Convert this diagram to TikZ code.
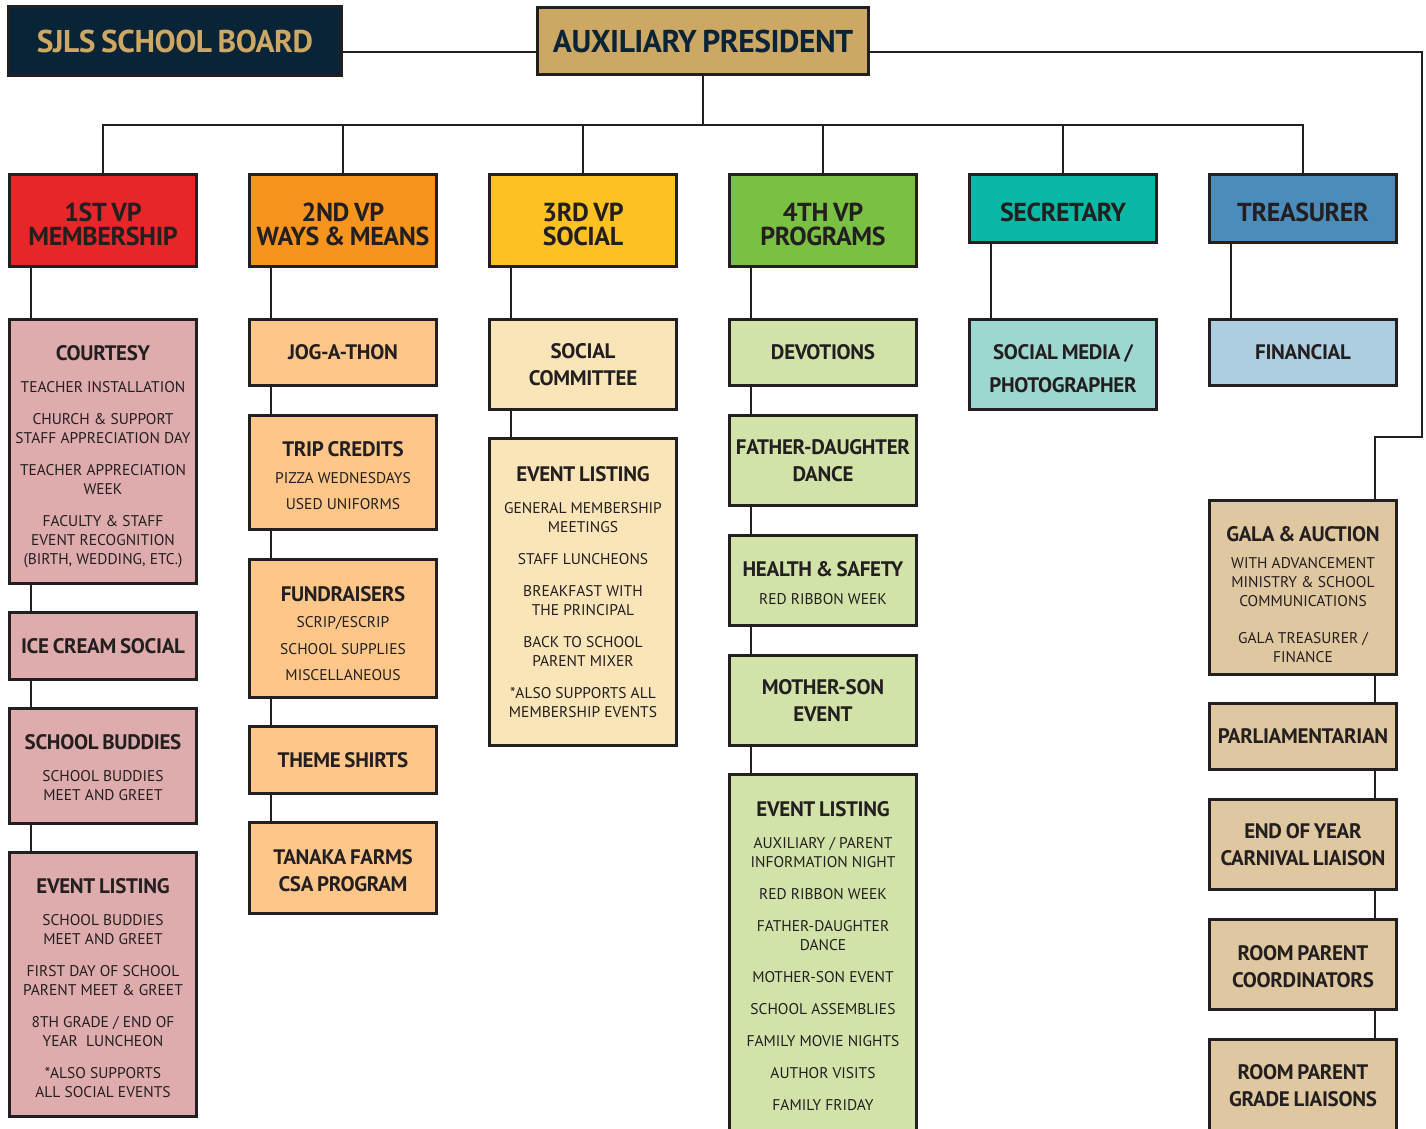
\documentclass[tikz,border=0pt]{standalone}
\usepackage{fontspec}
\setmainfont{PT Sans}[BoldFeatures={LetterSpace=-1.5,WordSpace=0.75}]
\usetikzlibrary{positioning}

\definecolor{navy}{HTML}{0A2437}
\definecolor{gold}{HTML}{CDA864}
\definecolor{ink}{HTML}{231F20}
\definecolor{vpred}{HTML}{E8262A}
\definecolor{vporange}{HTML}{F7941E}
\definecolor{vpyellow}{HTML}{FDC121}
\definecolor{vpgreen}{HTML}{7AC143}
\definecolor{secteal}{HTML}{0AB9A5}
\definecolor{treasblue}{HTML}{4C8CBA}
\definecolor{pinklt}{HTML}{DFACAE}
\definecolor{orangelt}{HTML}{FEC689}
\definecolor{yellowlt}{HTML}{FAE5B8}
\definecolor{greenlt}{HTML}{D1E3A8}
\definecolor{teallt}{HTML}{9DD8D0}
\definecolor{bluelt}{HTML}{ADCDE0}
\definecolor{tanlt}{HTML}{DFC79F}

% heading line of a list box; optional strut pushes the block down
\newcommand{\hd}[2][0pt]{{\fontsize{21}{23}\selectfont\bfseries\rule{0pt}{#1}#2}}
\newcommand{\lift}[1]{\rule{0pt}{#1}}

\begin{document}
\begin{tikzpicture}[x=1pt,y=-1pt,line width=2.7pt,draw=ink,
		box/.style={draw=ink,line width=2.8pt,minimum width=187pt,inner sep=0pt,align=center,text=ink},
		topbox/.style={box,font=\fontsize{31.5}{33}\selectfont\bfseries},
		vpbox/.style={box,minimum height=92pt,font=\fontsize{26}{24}\selectfont\bfseries},
		hdbox/.style={box,font=\fontsize{21}{27}\selectfont\bfseries},
		listbox/.style={box,font=\fontsize{15.5}{19}\selectfont}]
		
		\useasboundingbox (0,0) rectangle (1426,1128);
		
		% top row
		\node[topbox,fill=navy,text=gold,minimum width=333pt,minimum height=69pt] (board) at (175,41) {SJLS SCHOOL BOARD};
		\node[topbox,fill=gold,text=navy,minimum width=331pt,minimum height=67pt] (pres) at (703,41) {AUXILIARY PRESIDENT};
		
		% officers
		\node[vpbox,fill=vpred] (vp1) at (103,220.5) {\lift{26pt}1ST VP\\MEMBERSHIP};
		\node[vpbox,fill=vporange] (vp2) at (343,220.5) {\lift{26pt}2ND VP\\WAYS \& MEANS};
		\node[vpbox,fill=vpyellow] (vp3) at (583,220.5) {\lift{26pt}3RD VP\\SOCIAL};
		\node[vpbox,fill=vpgreen] (vp4) at (823,220.5) {\lift{26pt}4TH VP\\PROGRAMS};
		\node[vpbox,fill=secteal,minimum height=68pt] (sec) at (1063,208.5) {\lift{26pt}SECRETARY};
		\node[vpbox,fill=treasblue,minimum height=68pt] (treas) at (1303,208.5) {\lift{26pt}TREASURER};
		
		% membership
		\node[listbox,fill=pinklt,minimum height=264pt] (courtesy) at (103,451.5) {\hd[25pt]{COURTESY}\\[13pt]
			TEACHER INSTALLATION\\[13pt]
			CHURCH \& SUPPORT\\STAFF APPRECIATION DAY\\[13pt]
			TEACHER APPRECIATION\\WEEK\\[13pt]
			FACULTY \& STAFF\\EVENT RECOGNITION\\(BIRTH, WEDDING, ETC.)};
		\node[hdbox,fill=pinklt,minimum height=67pt] (icecream) at (103,646) {ICE CREAM SOCIAL};
		\node[listbox,fill=pinklt,minimum height=115pt] (buddies) at (103,766) {\hd[19pt]{SCHOOL BUDDIES}\\[13pt]
			SCHOOL BUDDIES\\MEET AND GREET};
		\node[listbox,fill=pinklt,minimum height=264pt] (events1) at (103,984.5) {\hd[23pt]{EVENT LISTING}\\[13pt]
			SCHOOL BUDDIES\\MEET AND GREET\\[13pt]
			FIRST DAY OF SCHOOL\\PARENT MEET \& GREET\\[13pt]
			8TH GRADE / END OF\\YEAR\ \ LUNCHEON\\[13pt]
			*ALSO SUPPORTS\\ALL SOCIAL EVENTS};
		
		% ways and means
		\node[hdbox,fill=orangelt,minimum height=66pt] (jog) at (343,352.5) {JOG-A-THON};
		\node[listbox,fill=orangelt,minimum height=114pt] (trip) at (343,472.5) {\hd[21pt]{TRIP CREDITS}\\[8pt]
			PIZZA WEDNESDAYS\\[7pt]
			USED UNIFORMS};
		\node[listbox,fill=orangelt,minimum height=138pt] (funds) at (343,628.5) {\hd[25pt]{FUNDRAISERS}\\[7pt]
			SCRIP/ESCRIP\\[8pt]
			SCHOOL SUPPLIES\\[7pt]
			MISCELLANEOUS};
		\node[hdbox,fill=orangelt,minimum height=67pt] (shirts) at (343,760) {THEME SHIRTS};
		\node[hdbox,fill=orangelt,minimum height=91pt] (tanaka) at (343,868) {\lift{21pt}TANAKA FARMS\\CSA PROGRAM};
		
		% social
		\node[hdbox,fill=yellowlt,minimum height=90pt] (committee) at (583,364.5) {SOCIAL\\COMMITTEE};
		\node[listbox,fill=yellowlt,minimum height=307pt] (events3) at (583,592) {\hd{EVENT LISTING}\\[13pt]
			GENERAL MEMBERSHIP\\MEETINGS\\[13pt]
			STAFF LUNCHEONS\\[13pt]
			BREAKFAST WITH\\THE PRINCIPAL\\[13pt]
			BACK TO SCHOOL\\PARENT MIXER\\[13pt]
			*ALSO SUPPORTS ALL\\MEMBERSHIP EVENTS};
		
		% programs
		\node[hdbox,fill=greenlt,minimum height=66pt] (devotions) at (823,352.5) {DEVOTIONS};
		\node[hdbox,fill=greenlt,minimum height=90pt] (dance) at (823,460.5) {FATHER-DAUGHTER\\DANCE};
		\node[listbox,fill=greenlt,minimum height=90pt] (health) at (823,580.5) {\hd[21pt]{HEALTH \& SAFETY}\\[9pt]
			RED RIBBON WEEK};
		\node[hdbox,fill=greenlt,minimum height=90pt] (motherson) at (823,700.5) {MOTHER-SON\\EVENT};
		\node[listbox,fill=greenlt,minimum height=364pt] (events4) at (823,956.5) {\hd{EVENT LISTING}\\[13pt]
			AUXILIARY / PARENT\\INFORMATION NIGHT\\[13pt]
			RED RIBBON WEEK\\[13pt]
			FATHER-DAUGHTER\\DANCE\\[13pt]
			MOTHER-SON EVENT\\[13pt]
			SCHOOL ASSEMBLIES\\[13pt]
			FAMILY MOVIE NIGHTS\\[13pt]
			AUTHOR VISITS\\[13pt]
			FAMILY FRIDAY};
		
		% secretary, treasurer
		\node[hdbox,fill=teallt,minimum height=90pt] (media) at (1063,364.5) {\lift{24pt}SOCIAL MEDIA /\\[6pt]PHOTOGRAPHER};
		\node[hdbox,fill=bluelt,minimum height=66pt] (financial) at (1303,352.5) {FINANCIAL};
		
		% right column
		\node[listbox,fill=tanlt,minimum height=174pt] (gala) at (1303,587.5) {\hd[29pt]{GALA \& AUCTION}\\[8pt]
			WITH ADVANCEMENT\\MINISTRY \& SCHOOL\\COMMUNICATIONS\\[18pt]
			GALA TREASURER /\\FINANCE};
		\node[hdbox,fill=tanlt,minimum height=66pt] (parl) at (1303,736.5) {PARLIAMENTARIAN};
		\node[hdbox,fill=tanlt,minimum height=90pt] (carnival) at (1303,844.5) {END OF YEAR\\CARNIVAL LIAISON};
		\node[hdbox,fill=tanlt,minimum height=90pt] (rpc) at (1303,964.5) {\lift{19pt}ROOM PARENT\\COORDINATORS};
		\node[hdbox,fill=tanlt,minimum height=93pt] (rpg) at (1303,1086) {ROOM PARENT\\GRADE LIAISONS};
		
		% connectors
		\coordinate (bus) at (703,125);
		\draw ([yshift=-11pt]board.east) -- ([yshift=-11pt]pres.west);
		\draw (pres.south) -- (bus);
		\foreach \n in {vp1,vp2,vp3,vp4,sec,treas}
		\draw (bus) -| (\n.north);
		\draw ([yshift=-11pt]pres.east) -| (1422,437) -| ([xshift=72pt]gala.north);
		
		\foreach \a/\b in {vp1/courtesy,courtesy/icecream,icecream/buddies,buddies/events1,
			vp2/jog,jog/trip,trip/funds,funds/shirts,shirts/tanaka,
			vp3/committee,committee/events3,
			vp4/devotions,devotions/dance,dance/health,health/motherson,motherson/events4,
			sec/media,treas/financial}
		\draw ([xshift=-72pt]\a.south) -- ([xshift=-72pt]\b.north);
		
		\foreach \a/\b in {gala/parl,parl/carnival,carnival/rpc,rpc/rpg}
		\draw ([xshift=72pt]\a.south) -- ([xshift=72pt]\b.north);
		\end{tikzpicture}
\end{document}
